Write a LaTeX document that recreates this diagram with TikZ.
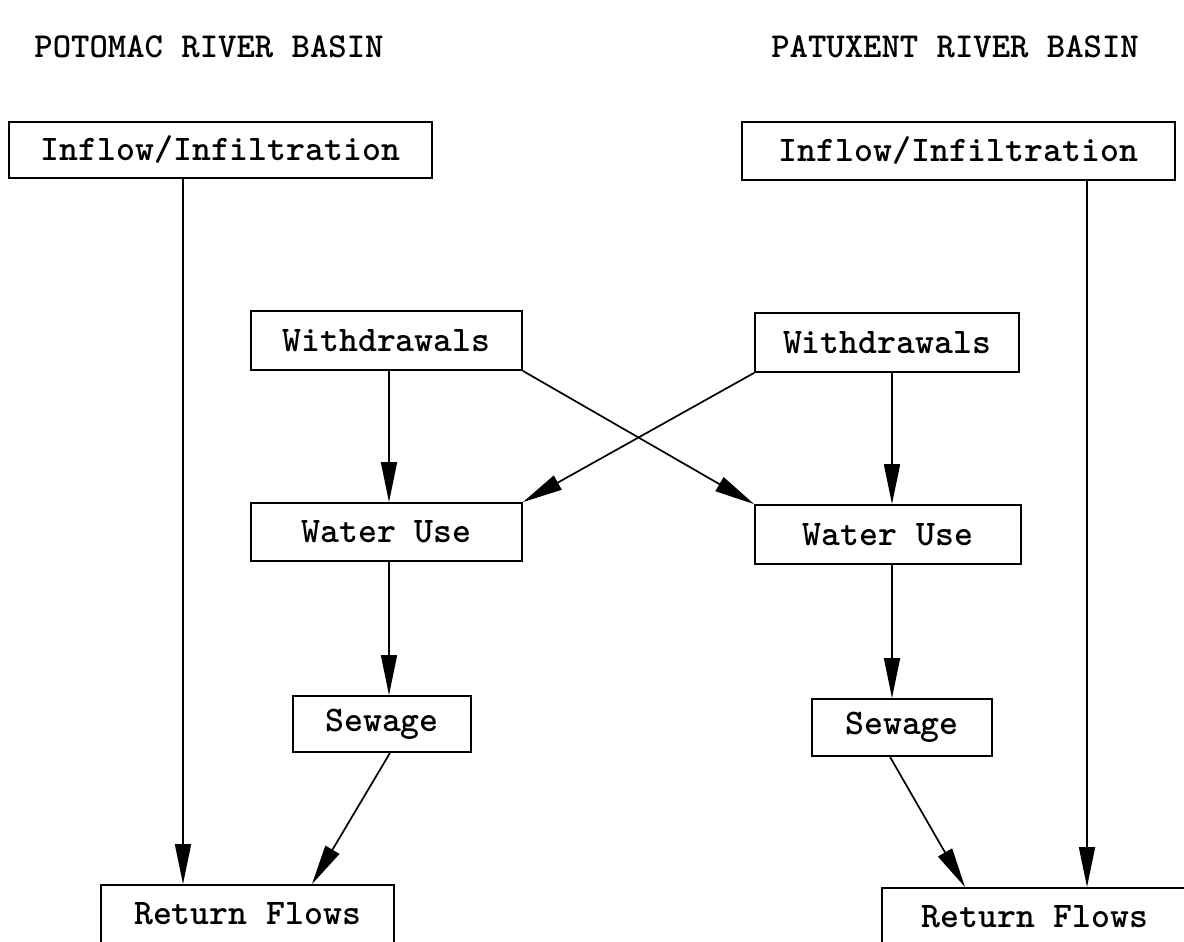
\documentclass[tikz,border=0pt]{standalone}
\usetikzlibrary{arrows.meta}
\begin{document}
\begin{tikzpicture}[x=1pt,y=-1pt,
  box/.style={draw,line width=1.8pt,inner sep=0pt,font=\ttfamily\bfseries\fontsize{36}{40}\selectfont},
  ttl/.style={inner sep=0pt,font=\ttfamily\bfseries\fontsize{35}{40}\selectfont},
  arr/.style={line width=1.7pt,-{Triangle[length=40pt,width=16pt]}}]
\useasboundingbox (0,0) rectangle (1184,942);
% titles
\node[ttl] (tL) at (209,47) {POTOMAC RIVER BASIN};
\node[ttl] (tR) at (955,47) {PATUXENT RIVER BASIN};
% boxes
\node[box,minimum width=423pt,minimum height=56pt] (inL) at (220.5,150) {Inflow/Infiltration};
\node[box,minimum width=433pt,minimum height=58pt] (inR) at (958.5,151) {Inflow/Infiltration};
\node[box,minimum width=271pt,minimum height=59pt] (wdL) at (386.5,340.5) {Withdrawals};
\node[box,minimum width=264pt,minimum height=59pt] (wdR) at (887,342.5) {Withdrawals};
\node[box,minimum width=271pt,minimum height=58pt] (wuL) at (386.5,532) {Water Use};
\node[box,minimum width=266pt,minimum height=59pt] (wuR) at (888,534.5) {Water Use};
\node[box,minimum width=178pt,minimum height=56pt] (swL) at (382,724) {Sewage};
\node[box,minimum width=180pt,minimum height=57pt] (swR) at (902,727.5) {Sewage};
\node[box,minimum width=293pt,minimum height=58pt] (rfL) at (247.5,914) {Return Flows};
\node[box,minimum width=306pt,minimum height=58pt] (rfR) at (1035,917) {Return Flows};
% connectors
\draw[arr] (183,0 |- inL.south) -- (183,0 |- rfL.north);
\draw[arr] (1087,0 |- inR.south) -- (1087,0 |- rfR.north);
\draw[arr] (389,0 |- wdL.south) -- (389,0 |- wuL.north);
\draw[arr] (892,0 |- wdR.south) -- (892,0 |- wuR.north);
\draw[arr] (wdL.south east) -- (wuR.north west);
\draw[arr] (wdR.south west) -- (wuL.north east);
\draw[arr] (389,0 |- wuL.south) -- (389,0 |- swL.north);
\draw[arr] (892,0 |- wuR.south) -- (892,0 |- swR.north);
\draw[arr] (390,0 |- swL.south) -- (312,0 |- rfL.north);
\draw[arr] (890,0 |- swR.south) -- (965,0 |- rfR.north);
\end{tikzpicture}
\end{document}
